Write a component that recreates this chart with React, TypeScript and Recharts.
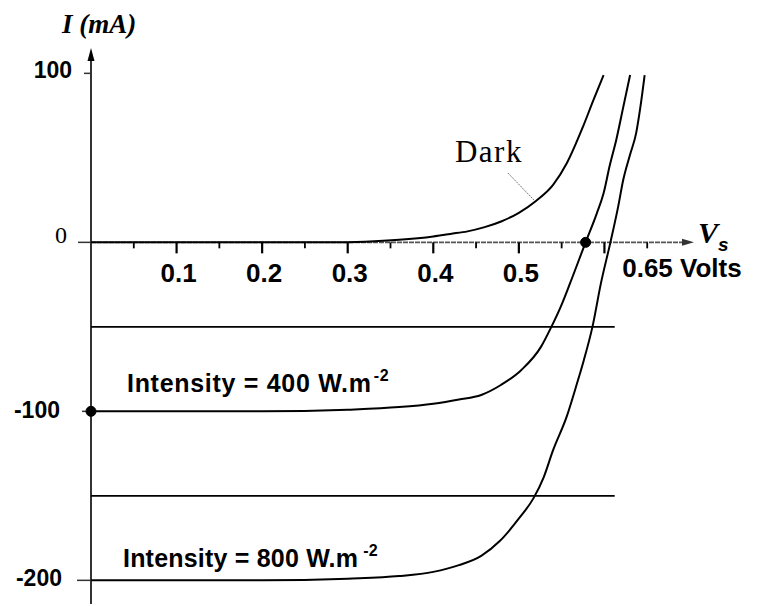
import React from "react";
import { LineChart, Line, XAxis, YAxis, ReferenceLine, ReferenceDot } from "recharts";

// ---- data (volts, mA) ----
const darkV = [0.0, 0.1, 0.2, 0.28, 0.32, 0.36, 0.4, 0.42, 0.44, 0.46, 0.48, 0.5, 0.52, 0.54, 0.556, 0.575, 0.587, 0.599];
const darkI = [0, 0, 0, 0, 0.4, 1.5, 3.5, 5, 6.5, 9, 12.5, 17.5, 24.5, 34, 46.8, 68.5, 84, 99];

const i400V = [0, 0.1, 0.2, 0.3, 0.36, 0.4, 0.43, 0.456, 0.479, 0.503, 0.526, 0.538, 0.549, 0.56, 0.578, 0.591, 0.599, 0.606, 0.614, 0.622, 0.63];
const i400I = [-100, -100, -100, -99, -97.5, -95.5, -93, -90.3, -84.4, -75.5, -61.7, -50, -38, -24, 0, 17, 29, 45, 61, 80, 99];

const i800V = [0, 0.1, 0.2, 0.3, 0.36, 0.4, 0.43, 0.456, 0.478, 0.501, 0.517, 0.529, 0.54, 0.556, 0.568, 0.576, 0.586, 0.596, 0.607, 0.616, 0.622, 0.63, 0.637, 0.642, 0.647];
const i800I = [-200, -200, -200, -199, -197.5, -195, -191, -185.5, -176.6, -162.8, -151.5, -139, -123, -103, -83.4, -69.6, -50, -24, 0, 21, 37, 52, 64.5, 80, 99];

const xMajorTicks = [0.1, 0.2, 0.3, 0.4, 0.5, 0.6];
const xMinorTicks = [0.05, 0.15, 0.25, 0.35, 0.45, 0.55, 0.65];
const xTickLabels = ["0.1", "0.2", "0.3", "0.4", "0.5"];
const xTickLabelValues = [0.1, 0.2, 0.3, 0.4, 0.5];
const lastXLabel = "0.65 Volts";
const lastXValue = 0.65;

const yTickLabels = ["100", "0", "-100", "-200"];
const yTickValues = [100, 0, -100, -200];

const refLevels = [-50, -150];
const refLevelEnd = 0.612;

const markedPoints = [
  { v: 0.578, i: 0 },
  { v: 0, i: -100 },
];

const intensityLabels = ["Intensity = 400 W.m", "Intensity = 800 W.m"];
const intensityLevels = [-100, -200];
const darkLabel = "Dark";
const darkLabelAt = { v: 0.423, i: 47.5 };
const darkLeader = [
  { v: 0.4873, i: 41 },
  { v: 0.5177, i: 25 },
];

const X_DOMAIN: [number, number] = [0, 0.7];
const Y_DOMAIN: [number, number] = [-214, 115];

const toData = (vs: number[], is: number[]) => vs.map((v, k) => ({ v, i: is[k] }));
const darkData = toData(darkV, darkI);
const data400 = toData(i400V, i400I);
const data800 = toData(i800V, i800I);

const SANS = "'Liberation Sans', Arial, sans-serif";
const SERIF = "'Liberation Serif', 'Times New Roman', serif";

type P = { cx?: number; cy?: number };

export default function App() {
  return (
    <div style={{ position: "absolute", left: 0, top: 0, background: "#fff" }}>
      <LineChart width={760} height={606} margin={{ top: 48, right: 70, bottom: 2, left: 91 }}>
        <XAxis dataKey="v" type="number" domain={X_DOMAIN} hide allowDataOverflow />
        <YAxis type="number" domain={Y_DOMAIN} hide allowDataOverflow />

        {/* axes */}
        <ReferenceLine
          segment={[{ x: 0, y: -214 }, { x: 0, y: 112 }]}
          stroke="#000"
          strokeWidth={1.6}
          ifOverflow="visible"
        />
        <ReferenceLine
          segment={[{ x: 0, y: 0 }, { x: 0.697, y: 0 }]}
          stroke="#555"
          strokeWidth={1.6}
          strokeDasharray="5 1"
          ifOverflow="visible"
        />
        {refLevels.map((lv) => (
          <ReferenceLine
            key={"lv" + lv}
            segment={[{ x: 0, y: lv }, { x: refLevelEnd, y: lv }]}
            stroke="#000"
            strokeWidth={1.8}
            ifOverflow="visible"
          />
        ))}

        {/* arrows */}
        <ReferenceDot
          x={0}
          y={115}
          ifOverflow="visible"
          shape={(p: P) => (
            <path d={`M${p.cx},${p.cy} L${(p.cx as number) - 3.5},${(p.cy as number) + 13} L${(p.cx as number) + 3.5},${(p.cy as number) + 13} Z`} fill="#000" />
          )}
        />
        <ReferenceDot
          x={0.7}
          y={0}
          ifOverflow="visible"
          shape={(p: P) => (
            <path d={`M${(p.cx as number) + 4},${p.cy} L${(p.cx as number) - 8},${(p.cy as number) - 3.5} L${(p.cx as number) - 8},${(p.cy as number) + 3.5} Z`} fill="#333" />
          )}
        />

        {/* x ticks */}
        {xMajorTicks.map((t) => (
          <ReferenceDot
            key={"M" + t}
            x={t}
            y={0}
            ifOverflow="visible"
            shape={(p: P) => <line x1={p.cx} x2={p.cx} y1={p.cy} y2={(p.cy as number) + 11} stroke="#000" strokeWidth={2.2} />}
          />
        ))}
        {xMinorTicks.map((t) => (
          <ReferenceDot
            key={"m" + t}
            x={t}
            y={0}
            ifOverflow="visible"
            shape={(p: P) => <line x1={p.cx} x2={p.cx} y1={p.cy} y2={(p.cy as number) + 6} stroke="#000" strokeWidth={1.8} />}
          />
        ))}
        {xTickLabels.map((lab, k) => (
          <ReferenceDot
            key={"xl" + lab}
            x={xTickLabelValues[k]}
            y={0}
            ifOverflow="visible"
            shape={(p: P) => (
              <text x={(p.cx as number) + 2} y={(p.cy as number) + 40} textAnchor="middle" fontFamily={SANS} fontWeight="bold" fontSize={26} fill="#000">
                {lab}
              </text>
            )}
          />
        ))}
        <ReferenceDot
          x={lastXValue}
          y={0}
          ifOverflow="visible"
          shape={(p: P) => (
            <text x={(p.cx as number) - 25} y={(p.cy as number) + 35} textAnchor="start" fontFamily={SANS} fontWeight="bold" fontSize={26} fill="#000">
              {lastXLabel}
            </text>
          )}
        />
        {/* V_s */}
        <ReferenceDot
          x={0.7}
          y={0}
          ifOverflow="visible"
          shape={(p: P) => (
            <g>
              <text x={(p.cx as number) + 8} y={(p.cy as number) + 1} fontFamily={SERIF} fontStyle="italic" fontWeight="bold" fontSize={30} fill="#000">
                V
              </text>
              <text x={(p.cx as number) + 28} y={(p.cy as number) + 9} fontFamily={SANS} fontStyle="italic" fontWeight="bold" fontSize={19} fill="#000">
                s
              </text>
            </g>
          )}
        />

        {/* y ticks and labels */}
        {yTickValues.map((t, k) => (
          <ReferenceDot
            key={"yl" + t}
            x={0}
            y={t}
            ifOverflow="visible"
            shape={(p: P) => {
              const cx = p.cx as number;
              const cy = p.cy as number;
              const isZero = t === 0;
              const endX = t === 100 ? cx - 19 : t === 0 ? cx - 24 : t === -100 ? cx - 31 : cx - 29;
              const dy = t === 100 ? 4.6 : t === 0 ? 1 : t === -100 ? 7 : 5.5;
              const tickLen = t === 100 ? 7 : t === 0 ? 13 : t === -100 ? 9 : 14;
              return (
                <g>
                  <line x1={cx - tickLen} x2={cx} y1={cy} y2={cy} stroke="#333" strokeWidth={1.5} />
                  <text
                    x={endX}
                    y={cy + dy}
                    textAnchor="end"
                    fontFamily={isZero ? SERIF : SANS}
                    fontWeight={isZero ? "normal" : "bold"}
                    fontSize={isZero ? 24 : 23}
                    fill="#000"
                  >
                    {yTickLabels[k]}
                  </text>
                </g>
              );
            }}
          />
        ))}
        {/* y axis title */}
        <ReferenceDot
          x={0}
          y={115}
          ifOverflow="visible"
          shape={(p: P) => (
            <text x={(p.cx as number) - 29} y={(p.cy as number) - 15} fontFamily={SERIF} fontStyle="italic" fontWeight="bold" fontSize={27} fill="#000">
              I (mA)
            </text>
          )}
        />

        {/* curves */}
        <Line data={darkData} dataKey="i" type="monotone" stroke="#000" strokeWidth={2} dot={false} isAnimationActive={false} />
        <Line data={data400} dataKey="i" type="monotone" stroke="#000" strokeWidth={2} dot={false} isAnimationActive={false} />
        <Line data={data800} dataKey="i" type="monotone" stroke="#000" strokeWidth={2} dot={false} isAnimationActive={false} />

        {/* marked points */}
        {markedPoints.map((m) => (
          <ReferenceDot key={"pt" + m.v} x={m.v} y={m.i} r={5} fill="#000" stroke="#000" ifOverflow="visible" />
        ))}

        {/* intensity labels */}
        {intensityLabels.map((lab, k) => (
          <ReferenceDot
            key={"il" + k}
            x={0}
            y={intensityLevels[k]}
            ifOverflow="visible"
            shape={(p: P) => (
              <text
                x={(p.cx as number) + (k === 0 ? 36 : 32)}
                y={(p.cy as number) + (k === 0 ? -19.4 : -13.4)}
                fontFamily={SANS}
                fontWeight="bold"
                fontSize={25}
                letterSpacing={k === 0 ? 0.7 : 0.2}
                fill="#000"
              >
                {lab}
                <tspan fontSize={16} dx={k === 0 ? 2 : 5} dy={-11}>-2</tspan>
              </text>
            )}
          />
        ))}

        {/* Dark label and leader */}
        <ReferenceLine
          segment={[{ x: darkLeader[0].v, y: darkLeader[0].i }, { x: darkLeader[1].v, y: darkLeader[1].i }]}
          stroke="#777"
          strokeWidth={1}
          strokeDasharray="2 1"
          ifOverflow="visible"
        />
        <ReferenceDot
          x={darkLabelAt.v}
          y={darkLabelAt.i}
          ifOverflow="visible"
          shape={(p: P) => (
            <text x={(p.cx as number) + 2} y={p.cy} fontFamily={SERIF} fontSize={31} letterSpacing={1.5} fill="#000">
              {darkLabel}
            </text>
          )}
        />
      </LineChart>
    </div>
  );
}
